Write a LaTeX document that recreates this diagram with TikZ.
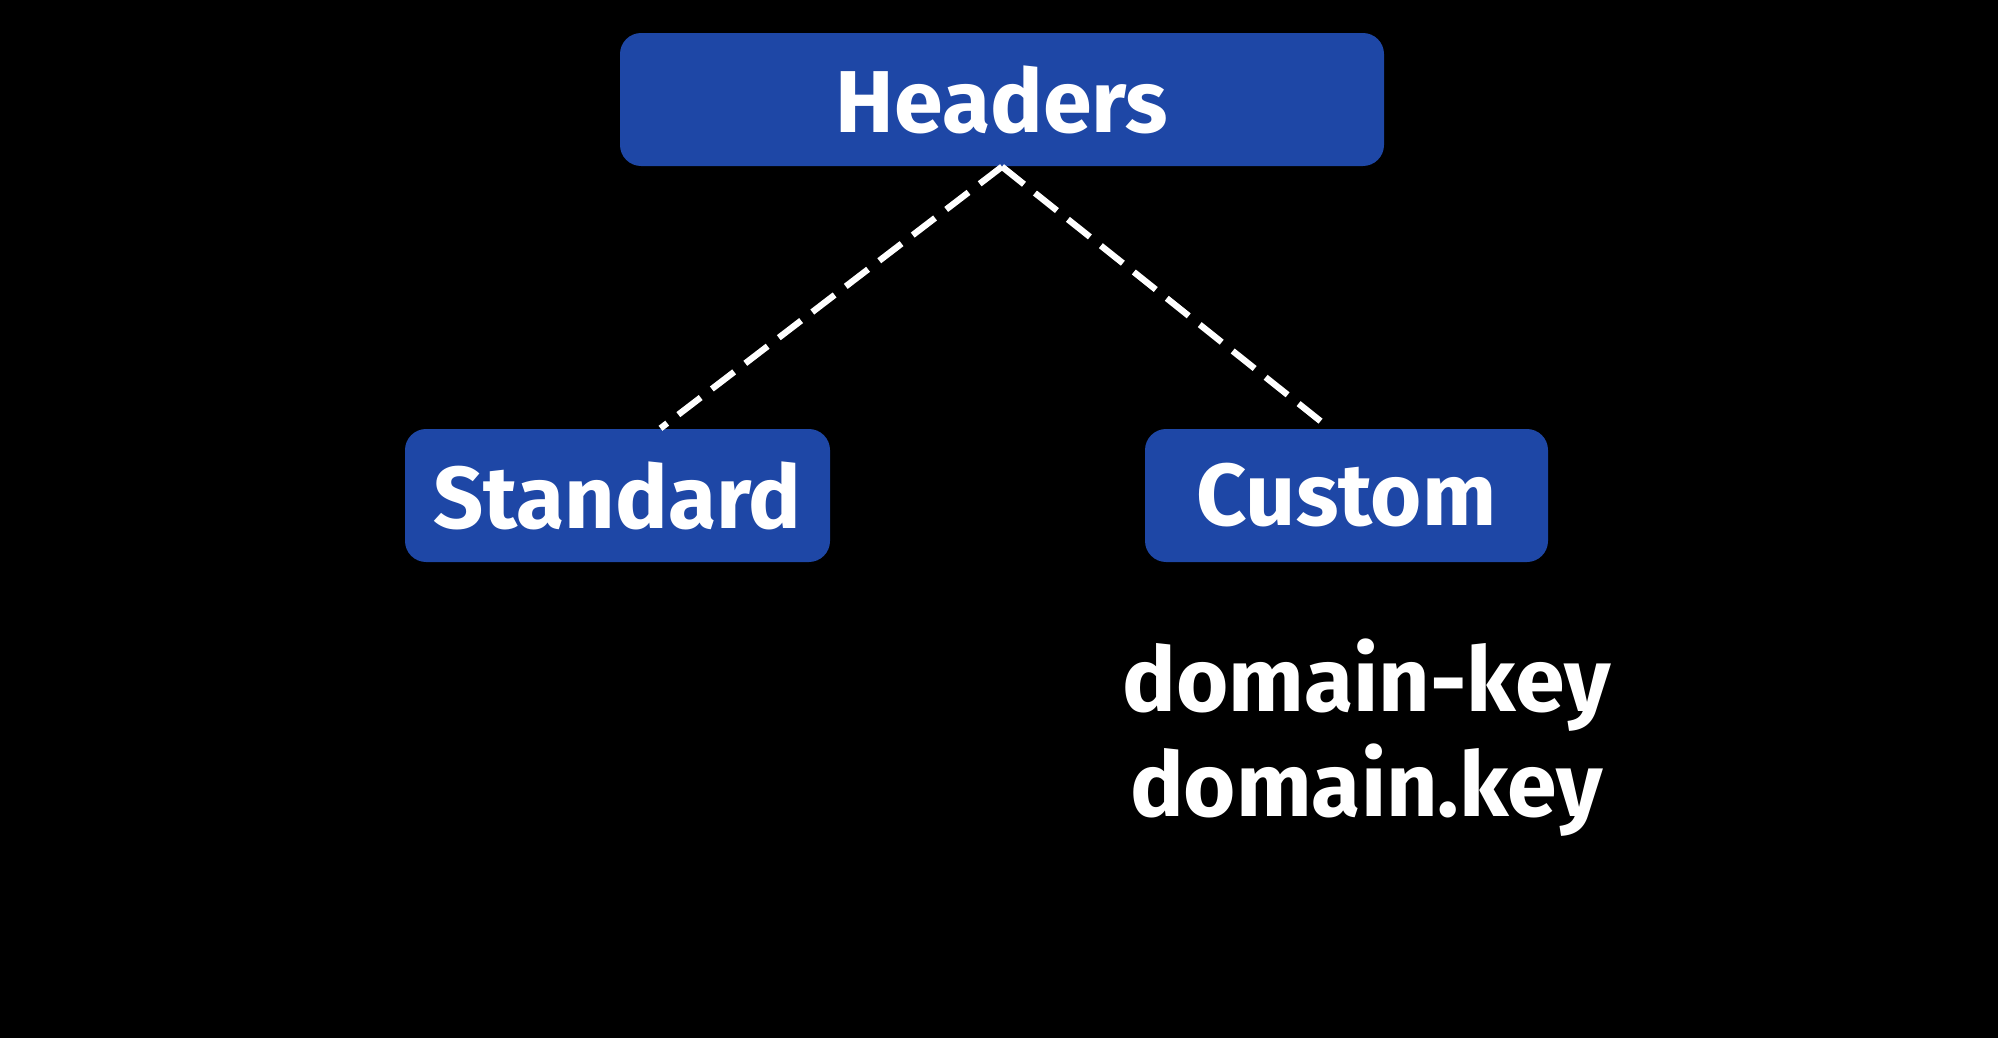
\documentclass[tikz,border=0pt]{standalone}
\usepackage{fontspec}
\setsansfont{Fira Sans}
\usepackage{tikz}
\usetikzlibrary{positioning, calc}
\definecolor{HdrBlue}{HTML}{1E47A6}

\begin{document}
\begin{tikzpicture}[every node/.style={font=\sffamily\bfseries},
  box/.style={fill=HdrBlue, text=white, rounded corners=6pt,
    minimum height=1.33cm, inner sep=0pt, font=\sffamily\bfseries\fontsize{25}{30}\selectfont},
  link/.style={white, line width=1.8pt, dash pattern=on 8pt off 4pt}
]
  % Background
  \fill[black] (0,0) rectangle (19.98,10.38);

  % Boxes
  \node[box, minimum width=7.64cm] (hdr) at (10.02,9.385) {Headers};
  \node[box, minimum width=4.25cm] (std) at (6.175,5.425) {Standard};
  \node[box, minimum width=4.03cm] (cst) at (13.465,5.425) {Custom};

  % Dashed links
  \draw[link] (hdr.south) -- ([xshift=0.43cm]std.north);
  \draw[link] (hdr.south) -- ([xshift=-0.17cm]cst.north);

  % Custom header names
  \node[text=white, align=center, font=\sffamily\bfseries\fontsize{25.5}{30}\selectfont]
    (keys) at ($(cst.south)+(0.2,-1.75)$) {domain-key\\domain.key};
\end{tikzpicture}
\end{document}
